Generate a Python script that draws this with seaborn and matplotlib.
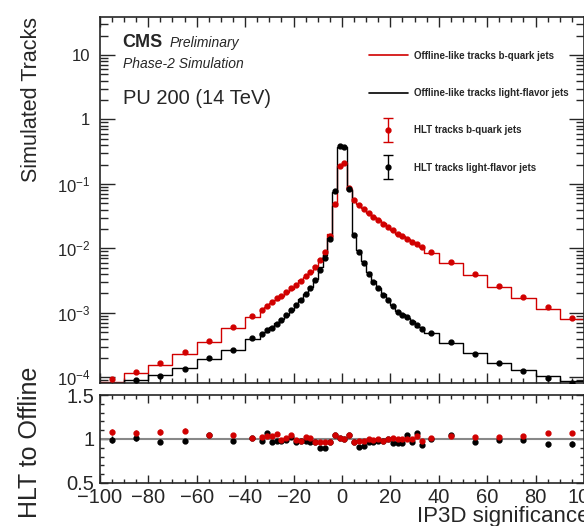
# HLT vs offline-like tracks: IP3D significance, b-quark and light-flavour jets
import numpy as np
import matplotlib
matplotlib.use("Agg")
import matplotlib.pyplot as plt
import matplotlib.ticker as mticker
from matplotlib.lines import Line2D
from matplotlib.legend_handler import HandlerErrorbar
import seaborn as sns

# binning (variable width)
edges = [-100, -90, -80, -70, -60, -50, -40, -34,
         -32, -30, -28, -26, -24, -22, -20, -18, -16, -14, -12, -10, -8, -6, -4, -2, 0,
         2, 4, 6, 8, 10, 12, 14, 16, 18, 20, 22, 24, 26, 28, 30, 32, 34,
         40, 50, 60, 70, 80, 90, 100]

# offline-like tracks, b-quark jets (normalised)
offline_b = [8.6e-5, 1.15e-4, 1.55e-4, 2.3e-4, 3.5e-4, 5.8e-4, 8.7e-4,
             1.1e-3, 1.22e-3, 1.43e-3, 1.6e-3, 1.85e-3, 2.1e-3, 2.35e-3, 2.7e-3, 3.2e-3,
             3.65e-3, 4.3e-3, 5.4e-3, 6.9e-3, 9.2e-3, 0.0165, 0.046, 0.19,
             0.21, 0.084, 0.058, 0.048, 0.042, 0.036, 0.031, 0.0275, 0.0245,
             0.0214, 0.019, 0.017, 0.0155, 0.0138, 0.0127, 0.0113, 0.0107,
             8.6e-3, 5.9e-3, 3.9e-3, 2.55e-3, 1.73e-3, 1.15e-3, 7.9e-4]

# offline-like tracks, light-flavour jets
offline_l = [6.5e-5, 9.0e-5, 1.08e-4, 1.38e-4, 1.9e-4, 2.7e-4, 4.0e-4,
             4.9e-4, 5.1e-4, 6.0e-4, 6.9e-4, 8.0e-4, 9.3e-4, 1.1e-3, 1.36e-3, 1.65e-3,
             1.97e-3, 2.5e-3, 3.4e-3, 5.2e-3, 8.0e-3, 0.0145, 0.075, 0.38,
             0.38, 0.080, 0.0168, 9.5e-3, 6.4e-3, 4.25e-3, 3.1e-3, 2.45e-3, 1.93e-3,
             1.6e-3, 1.33e-3, 1.07e-3, 9.6e-4, 8.2e-4, 7.4e-4, 6.0e-4, 6.0e-4,
             4.8e-4, 3.4e-4, 2.35e-4, 1.7e-4, 1.28e-4, 1.05e-4, 8.7e-5]

# HLT / offline ratios
ratio_b = [1.08, 1.07, 1.08, 1.095, 1.05, 1.05, 1.015,
           1.02, 1.03, 1.03, 1.06, 0.99, 1.01, 1.04, 0.99, 0.98, 1.02, 1.01, 0.96,
           0.96, 0.96, 0.96, 1.045, 1.01,
           1.0, 1.04, 0.97, 0.98, 0.98, 1.0, 0.99, 1.0, 0.98, 1.0, 1.01, 1.0, 1.0,
           1.0, 1.0, 1.03, 0.98,
           1.01, 1.03, 1.02, 1.02, 1.03, 1.07, 1.07]
ratio_l = [0.99, 1.01, 0.97, 0.98, 1.04, 0.975, 1.01,
           0.975, 1.07, 0.97, 0.98, 0.975, 0.99, 1.02, 0.96, 0.975, 0.98, 0.97, 0.96,
           0.90, 0.895, 0.96, 1.045, 1.01,
           1.0, 1.04, 0.97, 0.91, 0.92, 0.96, 0.97, 0.98, 0.98, 1.0, 0.95, 0.95, 0.95,
           1.04, 0.97, 1.065, 0.93,
           1.0, 1.04, 0.97, 0.99, 0.99, 0.94, 0.94]
err_b = [0.03, 0.03, 0.03, 0.03, 0.015, 0.01, 0.01,
         0.015, 0.015, 0.015, 0.015, 0.012, 0.012, 0.01, 0.01, 0.01, 0.01, 0.008, 0.008,
         0.006, 0.005, 0.004, 0.003, 0.002,
         0.002, 0.003, 0.003, 0.003, 0.003, 0.003, 0.004, 0.004, 0.004, 0.004, 0.005,
         0.005, 0.005, 0.005, 0.005, 0.006, 0.006,
         0.005, 0.005, 0.006, 0.007, 0.008, 0.01, 0.012]
err_l = [0.04, 0.035, 0.03, 0.025, 0.02, 0.015, 0.015,
         0.02, 0.02, 0.02, 0.02, 0.015, 0.015, 0.015, 0.012, 0.012, 0.01, 0.01, 0.008,
         0.007, 0.006, 0.004, 0.003, 0.002,
         0.002, 0.003, 0.004, 0.006, 0.007, 0.008, 0.01, 0.01, 0.012, 0.012, 0.015,
         0.015, 0.015, 0.02, 0.02, 0.02, 0.02,
         0.015, 0.015, 0.02, 0.02, 0.025, 0.03, 0.035]

labels = ["Offline-like tracks b-quark jets", "Offline-like tracks light-flavor jets",
          "HLT tracks b-quark jets", "HLT tracks light-flavor jets"]

red = "#d10000"
black = "black"

sns.set_style("ticks")
plt.rcParams["font.family"] = ["Liberation Sans", "DejaVu Sans"]
plt.rcParams["mathtext.fontset"] = "custom"
plt.rcParams["mathtext.rm"] = "Liberation Sans"
plt.rcParams["mathtext.it"] = "Liberation Sans:italic"
plt.rcParams["mathtext.bf"] = "Liberation Sans:bold"
plt.rcParams["axes.linewidth"] = 1.2

centers = [0.5 * (a + b) for a, b in zip(edges[:-1], edges[1:])]
offline_b = np.array(offline_b)
offline_l = np.array(offline_l)
ratio_b = np.array(ratio_b)
ratio_l = np.array(ratio_l)
err_b = np.array(err_b)
err_l = np.array(err_l)
hlt_b = offline_b * ratio_b
hlt_l = offline_l * ratio_l

fig = plt.figure(figsize=(5.84, 5.26), dpi=100)
ax = fig.add_axes([0.171, 0.272, 0.829, 0.696])
rax = fig.add_axes([0.171, 0.082, 0.829, 0.167])

# offline histograms as step lines
sns.histplot(x=centers, weights=list(offline_b), bins=edges, element="step", fill=False,
             color=red, linewidth=1.0, ax=ax)
sns.histplot(x=centers, weights=list(offline_l), bins=edges, element="step", fill=False,
             color=black, linewidth=1.0, ax=ax)

# HLT points
ax.errorbar(centers, hlt_b, yerr=offline_b * err_b, fmt="o", ms=3.5, color=red,
            elinewidth=1, capsize=0, zorder=4)
ax.errorbar(centers, hlt_l, yerr=offline_l * err_l, fmt="o", ms=3.5, color=black,
            elinewidth=1, capsize=0, zorder=5)

ax.set_yscale("log")
ax.set_xlim(-100, 100)
ax.set_ylim(8.2e-5, 39)
ax.set_ylabel("Simulated Tracks", fontsize=15.5, loc="top")
ax.yaxis.set_label_coords(-0.12, 1.0)
ax.set_xlabel("")
ax.yaxis.set_major_locator(mticker.LogLocator(base=10, numticks=20))
ax.yaxis.set_minor_locator(mticker.LogLocator(base=10, subs=np.arange(2, 10), numticks=20))
ax.yaxis.set_minor_formatter(mticker.NullFormatter())


def logfmt(v, pos):
    if v >= 1:
        return "%d" % round(v)
    return r"$10^{%d}$" % round(np.log10(v))


ax.yaxis.set_major_formatter(mticker.FuncFormatter(logfmt))
ax.xaxis.set_major_locator(mticker.MultipleLocator(20))
ax.xaxis.set_minor_locator(mticker.MultipleLocator(5))
ax.tick_params(which="both", direction="in", top=True, right=True, labelbottom=False,
               labelsize=12, pad=7)
ax.tick_params(axis="y", which="major", length=11, width=1)
ax.tick_params(axis="y", which="minor", length=5.5, width=1)
ax.tick_params(axis="x", which="major", length=7, width=1)
ax.tick_params(axis="x", which="minor", length=3.5, width=1)

# texts
ax.text(0.047, 0.918, "CMS", transform=ax.transAxes, fontsize=13, fontweight="bold")
ax.text(0.145, 0.918, "Preliminary", transform=ax.transAxes, fontsize=10, style="italic")
ax.text(0.047, 0.861, "Phase-2 Simulation", transform=ax.transAxes, fontsize=10,
        style="italic")
ax.text(0.048, 0.762, "PU 200 (14 TeV)", transform=ax.transAxes, fontsize=14.5)

# legend
h1 = Line2D([], [], color=red, lw=1.2)
h2 = Line2D([], [], color=black, lw=1.2)
h3 = ax.errorbar([np.nan], [np.nan], yerr=[1], fmt="o", ms=3.5, color=red,
                 elinewidth=1, capsize=3.5)
h4 = ax.errorbar([np.nan], [np.nan], yerr=[1], fmt="o", ms=3.5, color=black,
                 elinewidth=1, capsize=3.5)
leg = ax.legend([h1, h2, h3, h4], labels, loc="upper left",
                bbox_to_anchor=(0.623, 0.9125), bbox_transform=fig.transFigure,
                frameon=False, borderpad=0, handlelength=4.0, handletextpad=0.7,
                labelspacing=2.8, numpoints=1,
                prop={"size": 7, "weight": "bold"},
                handler_map={type(h3): HandlerErrorbar(yerr_size=1.2)})

# ratio panel
rax.axhline(1.0, color="#888888", lw=1.5, zorder=1)
rax.errorbar(centers, ratio_l, yerr=err_l, fmt="o", ms=3.5, color=black,
             elinewidth=1, capsize=0, zorder=3)
rax.errorbar(centers, ratio_b, yerr=err_b, fmt="o", ms=3.5, color=red,
             elinewidth=1, capsize=0, zorder=4)
rax.set_xlim(-100, 100)
rax.set_ylim(0.5, 1.5)
rax.set_ylabel("HLT to Offline", fontsize=18, loc="top")
rax.yaxis.set_label_coords(-0.12, 1.32)
rax.set_xlabel("IP3D significance", fontsize=16, loc="right")
rax.xaxis.set_label_coords(1.012, -0.26)
rax.yaxis.set_major_locator(mticker.FixedLocator([0.5, 1.0, 1.5]))
rax.yaxis.set_major_formatter(mticker.FuncFormatter(lambda v, p: "%g" % v))
rax.yaxis.set_minor_locator(mticker.MultipleLocator(0.1))
rax.xaxis.set_major_locator(mticker.MultipleLocator(20))
rax.xaxis.set_minor_locator(mticker.MultipleLocator(5))
rax.tick_params(which="both", direction="in", top=True, right=True, labelsize=14.5, pad=4)
rax.tick_params(which="major", length=6, width=1)
rax.tick_params(which="minor", length=3, width=1)

fig.savefig("out.png", dpi=100)
